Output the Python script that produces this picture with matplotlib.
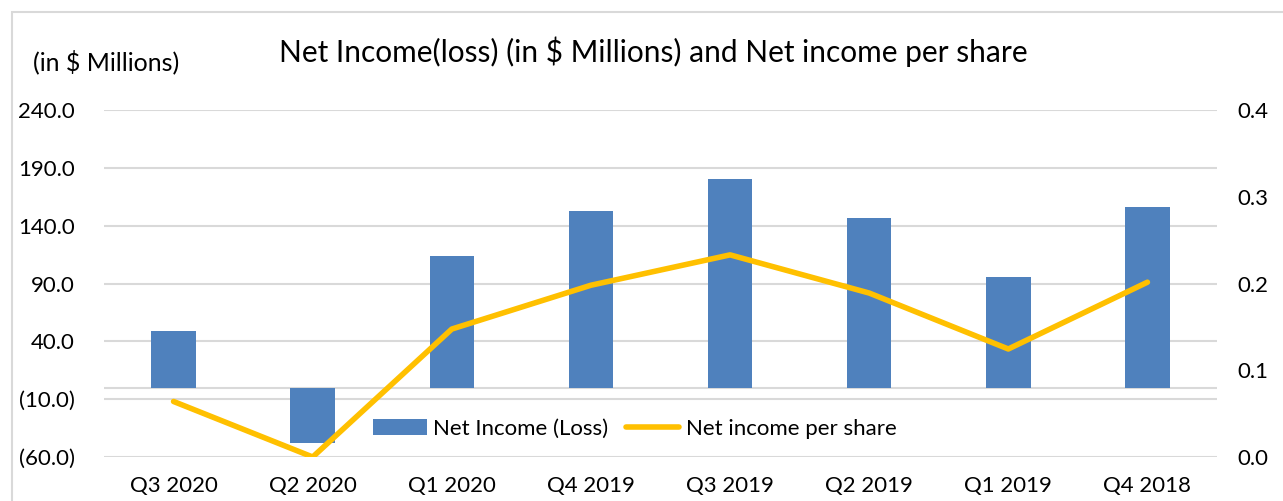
import matplotlib
matplotlib.use("Agg")
import matplotlib.pyplot as plt
from matplotlib.patches import Rectangle
from matplotlib.lines import Line2D
from matplotlib.patches import Patch

categories = ["Q3 2020", "Q2 2020", "Q1 2020", "Q4 2019", "Q3 2019", "Q2 2019", "Q1 2019", "Q4 2018"]
net_income = [48.8, -47.5, 113.7, 152.6, 180.3, 146.6, 95.3, 155.9]
eps = [0.064, 0.0, 0.1475, 0.198, 0.233, 0.189, 0.1245, 0.2015]
left_ticks = [-60, -10, 40, 90, 140, 190, 240]
right_ticks = [0.0, 0.1, 0.2, 0.3, 0.4]

plt.rcParams['font.family'] = ['Lato', 'DejaVu Sans']

W, H = 1283, 501
fig = plt.figure(figsize=(W / 100, H / 100), dpi=100)
fig.patches.append(Rectangle((12 / W, -0.1), 2, 1.1 - 12 / H, transform=fig.transFigure,
                             fill=False, edgecolor='#d9d9d9', linewidth=1.5))

ax = fig.add_axes([104 / W, (H - 457) / H, (1217 - 104) / W, (457 - 110) / H])
x = list(range(len(categories)))
bar_color = '#4F81BD'
line_color = '#FFC000'
grid_color = '#d9d9d9'
tick_fs = 16

ax.bar(x, net_income, width=0.32, color=bar_color, zorder=3)
ax.set_ylim(-60, 240)
ax.set_xlim(-0.5, len(categories) - 0.5)
ax.set_yticks(left_ticks)
ax.set_yticklabels([f"({abs(v):.1f})" if v < 0 else f"{v:.1f}" for v in left_ticks])
for v in left_ticks:
    ax.axhline(v, color=grid_color, linewidth=1.5, zorder=1)
ax.axhline(0, color=grid_color, linewidth=1.5, zorder=2)
ax.set_xticks(x)
ax.set_xticklabels(categories)
for s in ax.spines.values():
    s.set_visible(False)
ax.tick_params(axis='both', length=0, labelsize=tick_fs, colors='black')
ax.tick_params(axis='x', pad=14)
ax.tick_params(axis='y', pad=21)

ax2 = ax.twinx()
ax2.plot(x, eps, color=line_color, linewidth=4, solid_capstyle='round', zorder=4)
ax2.set_ylim(0, 0.4)
ax2.set_yticks(right_ticks)
ax2.set_yticklabels([f"{v:.1f}" for v in right_ticks])
for s in ax2.spines.values():
    s.set_visible(False)
ax2.tick_params(axis='y', length=0, labelsize=tick_fs, pad=15)

fig.text(653 / W, 1 - 52 / H, "Net Income(loss) (in $ Millions) and Net income per share",
         ha='center', va='center', fontsize=21.5)
fig.text(33 / W, 1 - 62 / H, "(in $ Millions)", ha='left', va='center', fontsize=18)

handles = [Patch(facecolor=bar_color, label='Net Income (Loss)'),
           Line2D([0], [0], color=line_color, linewidth=4, solid_capstyle='round', label='Net income per share')]
fig.legend(handles=handles, loc='center', bbox_to_anchor=(635 / W, 1 - 429 / H), ncol=2,
           frameon=False, fontsize=16, handlelength=2.4, handletextpad=0.3, columnspacing=0.8)

fig.savefig("out.png", dpi=100)
